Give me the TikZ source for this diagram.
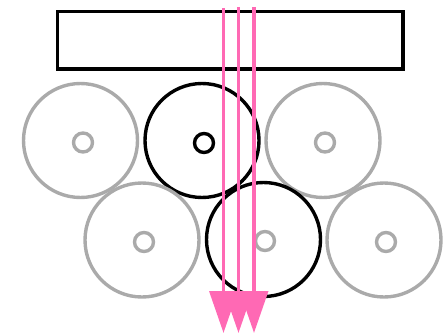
\documentclass[tikz,border=0pt]{standalone}
\usetikzlibrary{arrows.meta}
\definecolor{rollgray}{HTML}{AAAAAA}
\definecolor{beampink}{HTML}{FF69B4}
\tikzset{
  roll/.style={circle, draw, line width=3.4pt, minimum size=114pt, inner sep=0pt},
  hub/.style={circle, draw, line width=3.4pt, minimum size=19pt, inner sep=0pt},
  idle/.style={draw=rollgray},
  active/.style={draw=black},
  plate/.style={rectangle, draw=black, line width=3.4pt, minimum width=345.5pt, minimum height=57.5pt, inner sep=0pt},
  beam/.style={draw=beampink, line width=3.6pt, -{Triangle[width=28pt,length=42pt]}, beampink}
}
\begin{document}
\begin{tikzpicture}[x=1pt,y=-1pt]
  \useasboundingbox (0,0) rectangle (446,334);
  % top plate
  \node[plate] (plate) at (230.25,40.25) {};
  % upper row of rolls
  \node[roll,idle]   (r1) at (80.5,140.5) {};
  \node[roll,active] (r2) at (202,140.5) {};
  \node[roll,idle]   (r3) at (323,140.5) {};
  % lower row of rolls
  \node[roll,idle]   (r4) at (142,240) {};
  \node[roll,active] (r5) at (263.5,239.5) {};
  \node[roll,idle]   (r6) at (384,240) {};
  % hubs
  \node[hub,idle]   (h1) at (83,142.5) {};
  \node[hub,active] (h2) at (204,143) {};
  \node[hub,idle]   (h3) at (325,142.5) {};
  \node[hub,idle]   (h4) at (144,242) {};
  \node[hub,idle]   (h5) at (265,241) {};
  \node[hub,idle]   (h6) at (386,242) {};
  % beams
  \coordinate (s1) at (223.5,8);
  \coordinate (s2) at (238.5,7);
  \coordinate (s3) at (254,7);
  \coordinate (e1) at (223.5,333);
  \coordinate (e2) at (238.5,333);
  \coordinate (e3) at (254,333);
  \draw[beam] (s1) -- (e1);
  \draw[beam] (s2) -- (e2);
  \draw[beam] (s3) -- (e3);
\end{tikzpicture}
\end{document}
